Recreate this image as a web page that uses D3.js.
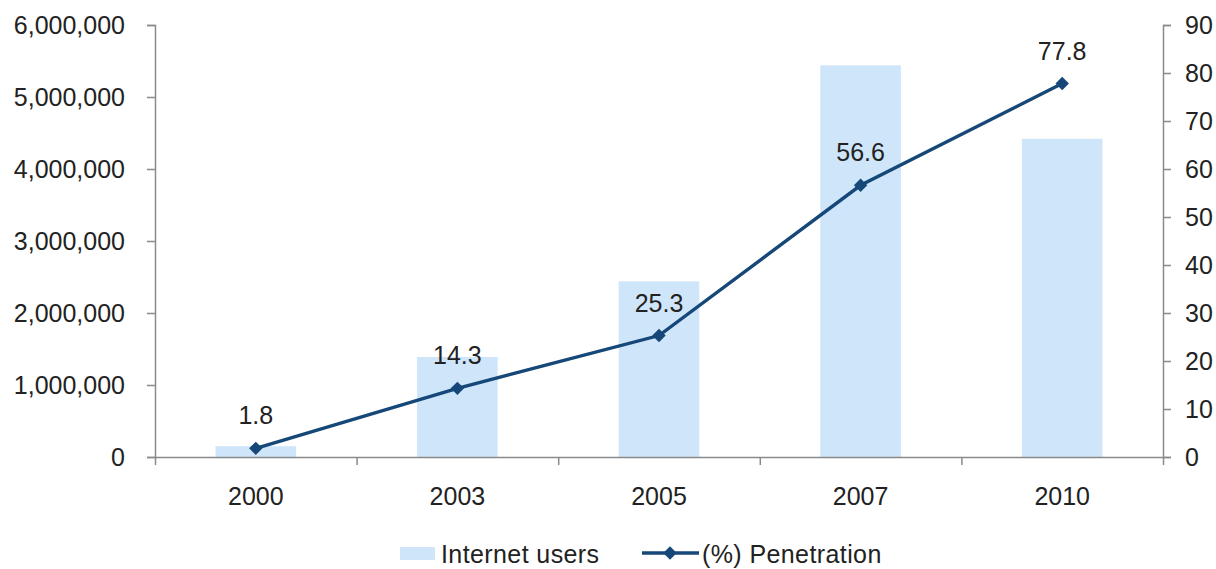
<!DOCTYPE html>
<html><head><meta charset="utf-8">
<script src="https://cdn.jsdelivr.net/npm/d3@7"></script>
<style>
html,body{margin:0;padding:0;background:#fff;}
svg text{font-family:"Liberation Sans",Arial,sans-serif;fill:#222;}
</style></head>
<body><svg id="c" width="1216" height="569"></svg>
<script>
const years = ["2000","2003","2005","2007","2010"];
const users = [150000, 1390000, 2440000, 5440000, 4420000];
const penetration = [1.8, 14.3, 25.3, 56.6, 77.8];
const leftTicks = [0,1000000,2000000,3000000,4000000,5000000,6000000];
const rightTicks = [0,10,20,30,40,50,60,70,80,90];
const seriesNames = ["Internet users","(%) Penetration"];

const svg = d3.select("#c");
const L = 155, R = 1163, T = 25, B = 457;
const barColor = "#cfe6fa", lineColor = "#154878", axisColor = "#8a8a8a";

const x = d3.scaleBand().domain(years).range([L, R]).paddingInner(0.6).paddingOuter(0.3);
const yL = d3.scaleLinear().domain([0, 6000000]).range([B, T]);
const yR = d3.scaleLinear().domain([0, 90]).range([B, T]);
const fmt = d3.format(",");

// bars
svg.append("g").selectAll("rect").data(years).join("rect")
  .attr("x", d => x(d)).attr("width", x.bandwidth())
  .attr("y", (d,i) => yL(users[i])).attr("height", (d,i) => B - yL(users[i]))
  .attr("fill", barColor);

// axes
function styleAxis(g){
  g.selectAll(".domain").attr("stroke", axisColor).attr("stroke-width", 1.5);
  g.selectAll(".tick line").attr("stroke", axisColor).attr("stroke-width", 1.5);
  g.selectAll(".tick text").attr("font-size", 25).attr("fill","#222")
    .attr("font-family",'"Liberation Sans",Arial,sans-serif');
}
const gl = svg.append("g").attr("transform", `translate(${L},0)`)
  .call(d3.axisLeft(yL).tickValues(leftTicks).tickFormat(fmt).tickSize(8).tickSizeOuter(8).tickPadding(22));
styleAxis(gl);
const gr = svg.append("g").attr("transform", `translate(${R},0)`)
  .call(d3.axisRight(yR).tickValues(rightTicks).tickSize(8).tickSizeOuter(8).tickPadding(14));
styleAxis(gr);

// x axis with ticks at category boundaries
const xb = d3.scalePoint().domain(d3.range(years.length + 1)).range([L, R]);
const gx = svg.append("g").attr("transform", `translate(0,${B})`)
  .call(d3.axisBottom(xb).tickSize(8).tickSizeOuter(0).tickFormat(""));
styleAxis(gx);
svg.append("g").selectAll("text").data(years).join("text")
  .attr("x", d => x(d) + x.bandwidth()/2).attr("y", 505)
  .attr("text-anchor","middle").attr("font-size", 25).text(d => d);

// line
const cx = (d) => x(d) + x.bandwidth()/2;
const line = d3.line().x((d,i) => cx(years[i])).y(d => yR(d));
svg.append("path").datum(penetration).attr("d", line)
  .attr("fill","none").attr("stroke", lineColor).attr("stroke-width", 3.4);
const diamond = d3.symbol().type(d3.symbolSquare).size(90);
svg.append("g").selectAll("path").data(penetration).join("path")
  .attr("d", diamond).attr("transform", (d,i) => `translate(${cx(years[i])},${yR(d)}) rotate(45)`)
  .attr("fill", lineColor);
svg.append("g").selectAll("text").data(penetration).join("text")
  .attr("x", (d,i) => cx(years[i])).attr("y", d => yR(d) - 24)
  .attr("text-anchor","middle").attr("font-size", 25).text(d => d.toFixed(1));

// legend
const lg = svg.append("g");
lg.append("rect").attr("x", 400).attr("y", 547).attr("width", 35).attr("height", 13).attr("fill", barColor);
lg.append("text").attr("x", 441).attr("y", 563).attr("font-size", 25).attr("letter-spacing", 0.4).text(seriesNames[0]);
lg.append("line").attr("x1", 642).attr("x2", 699).attr("y1", 553).attr("y2", 553)
  .attr("stroke", lineColor).attr("stroke-width", 3.4);
lg.append("path").attr("d", diamond).attr("transform", "translate(670,553) rotate(45)").attr("fill", lineColor);
lg.append("text").attr("x", 702).attr("y", 563).attr("font-size", 25).attr("letter-spacing", 0.4).text(seriesNames[1]);
</script></body></html>
